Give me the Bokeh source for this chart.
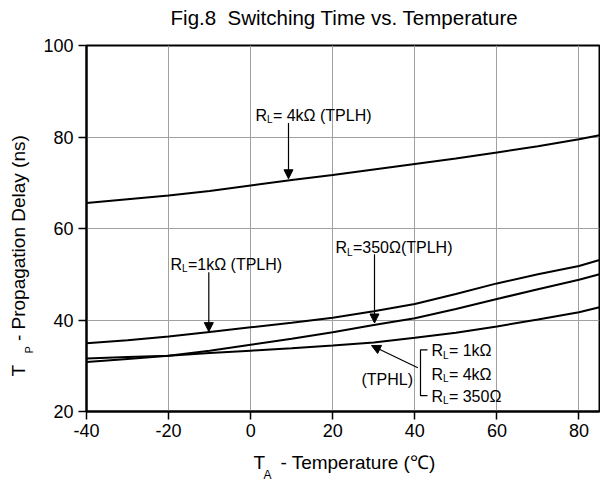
import math
from bokeh.plotting import figure
from bokeh.models import Range1d, FixedTicker, Label, Arrow, NormalHead, LinearAxis
from bokeh.embed import file_html
from bokeh.resources import INLINE

# ---- data ----
temp = [-40, -30, -20, -10, 0, 10, 20, 30, 40, 50, 60, 70, 80, 85]
tplh_4k = [65.6, 66.4, 67.2, 68.2, 69.4, 70.6, 71.7, 72.9, 74.1, 75.3, 76.6, 78.0, 79.5, 80.4]
tplh_1k = [34.9, 35.6, 36.4, 37.4, 38.4, 39.4, 40.5, 41.9, 43.5, 45.7, 48.0, 50.0, 51.8, 53.1]
tplh_350 = [31.6, 31.9, 32.2, 33.3, 34.6, 35.9, 37.3, 38.9, 40.4, 42.4, 44.6, 46.7, 48.8, 50.0]
tphl_all = [30.8, 31.5, 32.2, 32.8, 33.3, 33.8, 34.4, 35.1, 36.1, 37.2, 38.6, 40.1, 41.7, 42.8]
x_ticks = [-40, -20, 0, 20, 40, 60, 80]
x_tick_labels = ["-40", "-20", "0", "20", "40", "60", "80"]
y_ticks = [20, 40, 60, 80, 100]

FONT = "Liberation Sans"

p = figure(width=600, height=484, x_range=Range1d(-40, 85), y_range=Range1d(20, 100),
           output_backend="svg", toolbar_location=None,
           min_border_left=86, min_border_right=1, min_border_top=45, min_border_bottom=71)

p.outline_line_color = "black"
p.outline_line_width = 2
p.background_fill_color = "white"
p.border_fill_color = "white"

for ax, ticks in ((p.xaxis, x_ticks), (p.yaxis, y_ticks)):
    ax.ticker = FixedTicker(ticks=ticks)
    ax.axis_line_color = "black"
    ax.axis_line_width = 2
    ax.major_tick_line_color = "black"
    ax.major_tick_line_width = 1.5
    ax.major_tick_out = 8
    ax.major_tick_in = 0
    ax.minor_tick_line_color = None
    ax.major_label_text_font = FONT
    ax.major_label_text_font_size = "18px"
    ax.major_label_text_color = "black"
    ax.major_label_standoff = 5
p.xaxis.major_label_standoff = 4
p.xaxis.major_label_overrides = dict(zip(x_ticks, x_tick_labels))

p.grid.grid_line_color = "#a0a0a0"
p.grid.grid_line_width = 1

for ys in (tplh_4k, tplh_1k, tplh_350, tphl_all):
    p.line(temp, ys, line_color="black", line_width=2)

# pixel (page) -> data helpers for annotation placement
SX = 513 / 125.0
SY = 368 / 80.0


def X(px):
    return round(-40 + (px - 86) / SX, 3)


def Y(py):
    return round(100 - (py - 45) / SY, 3)


def text_axis(side, positions, texts, size, standoff, orientation="horizontal"):
    ax = LinearAxis(ticker=FixedTicker(ticks=positions),
                    major_label_overrides=dict(zip(positions, texts)))
    ax.axis_line_color = None
    ax.major_tick_line_color = None
    ax.minor_tick_line_color = None
    ax.major_tick_in = 0
    ax.major_tick_out = 0
    ax.minor_tick_in = 0
    ax.minor_tick_out = 0
    ax.major_label_standoff = standoff
    ax.major_label_text_font = FONT
    ax.major_label_text_font_size = f"{size}px"
    ax.major_label_text_color = "black"
    ax.major_label_orientation = orientation
    p.add_layout(ax, side)


# title (outside the frame)
text_axis("above", [X(344)], ["Fig.8\u00a0 Switching Time vs. Temperature"], 20.5, 17)
# x axis label: T_A - Temperature (C)
text_axis("below", [X(258.8), X(357.5)], ["T", "- Temperature (\u2103)"], 19, 12)
text_axis("below", [X(267)], ["A"], 12, -8)
# y axis label: T_P - Propagation Delay (ns)
text_axis("left", [Y(351)], ["P"], 11, 5, "vertical")
text_axis("left", [Y(372), Y(238.7)], ["T", "- Propagation Delay (ns)"], 19, -9, "vertical")

LIFT = 5


def lab(px, py, text, size=16):
    p.add_layout(Label(x=X(px), y=Y(py - LIFT), text=text, text_font=FONT,
                       text_font_size=f"{size}px", text_color="black",
                       text_baseline="alphabetic", text_align="left"))


def rl(px, py, rest):
    lab(px, py, "R")
    lab(px + 11.6, py + 4.5, "L", size=10)
    lab(px + 11.6 + 5.8, py, rest)


# curve labels
rl(255, 120, "= 4k\u03a9 (TPLH)")
rl(170, 270, "=1k\u03a9 (TPLH)")
rl(335, 253.5, "=350\u03a9(TPLH)")
lab(361, 385.7, "(TPHL)")
rl(431, 356.7, "= 1k\u03a9")
rl(431, 380.5, "= 4k\u03a9")
rl(431, 402.7, "= 350\u03a9")

# bracket
p.line([X(427), X(420), X(420), X(427)], [Y(351), Y(351), Y(397), Y(397)],
       line_color="black", line_width=1.2)


def arrow(x0, y0, x1, y1):
    p.add_layout(Arrow(end=NormalHead(size=9, fill_color="black", line_color="black", line_width=1),
                       x_start=X(x0), y_start=Y(y0), x_end=X(x1), y_end=Y(y1),
                       line_color="black", line_width=1.2))


arrow(288, 123, 288, 179)
arrow(208.3, 273, 208.3, 332.7)
arrow(374, 255, 374, 324)
arrow(417.3, 369, 371, 346.7)

open("out.html", "w").write(file_html(p, INLINE))
